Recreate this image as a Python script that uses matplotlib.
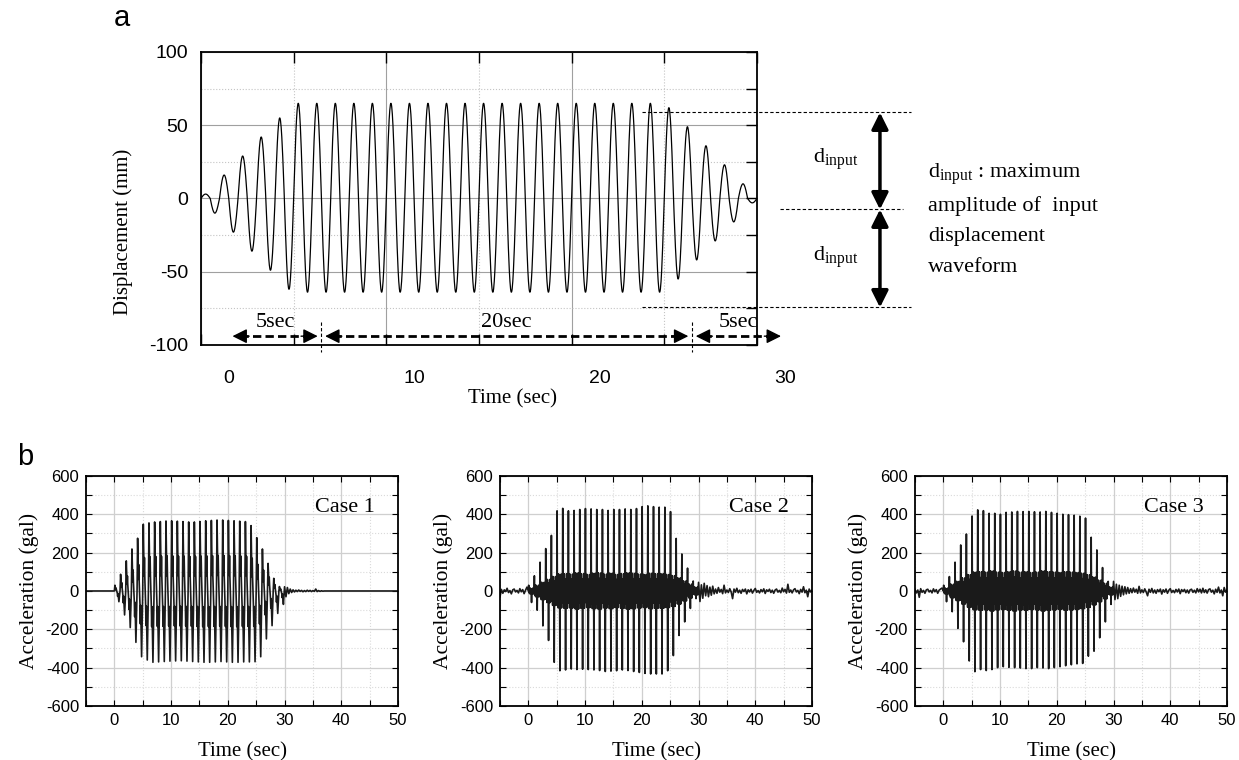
import numpy as np
import matplotlib.pyplot as plt
from matplotlib.ticker import MultipleLocator
from matplotlib.transforms import blended_transform_factory

plt.rcParams['font.family'] = 'Liberation Sans'
plt.rcParams['axes.linewidth'] = 1.3
plt.rcParams['axes.unicode_minus'] = False
SERIF = 'Liberation Serif'

# ---- (a) input displacement: signed peak of every half cycle (mm), 0.5 s apart
disp_half_peaks = [
    3, -10, 16, -23, 29, -36, 42, -49, 55, -62,
    65, -64, 65, -64, 65, -64, 65, -64, 65, -64,
    65, -64, 65, -64, 65, -64, 65, -64, 65, -64,
    65, -64, 65, -64, 65, -64, 65, -64, 65, -64,
    65, -64, 65, -64, 65, -64, 65, -64, 65, -64,
    62, -55, 49, -42, 36, -29, 23, -16, 10, -3,
]
half_period = 0.5
time_ticks_a = [0, 10, 20, 30]
label_shift = 1.5            # printed time scale sits ~1.5 s right of the grid
stage_edges = [0, 5, 25, 30]
stage_names = ['5sec', '20sec', '5sec']
d_levels = [58.7, -7.5, -74.4]   # dashed guides for d_input

# ---- (b) measured acceleration, one entry per 1 s loading cycle (gal)
pos_peaks = {
    'Case 1': [30, 87, 157, 219, 275, 348, 355, 360, 362, 365, 366, 364, 362, 360, 360,
               362, 366, 368, 370, 370, 368, 366, 364, 362, 341, 278, 219, 144, 66, 23],
    'Case 2': [30, 79, 150, 221, 290, 418, 431, 418, 420, 425, 430, 428, 425, 425, 420,
               425, 425, 428, 425, 430, 440, 444, 440, 437, 437, 414, 274, 193, 119, 52],
    'Case 3': [30, 75, 150, 240, 297, 391, 423, 419, 405, 405, 400, 410, 412, 415, 414,
               415, 413, 412, 415, 410, 405, 400, 398, 395, 390, 380, 280, 214, 122, 50],
}
neg_peaks = {
    'Case 1': [56, 125, 191, 268, 343, 360, 372, 370, 368, 366, 365, 364, 366, 368, 370,
               372, 372, 370, 368, 370, 372, 372, 370, 370, 369, 343, 250, 181, 117, 70],
    'Case 2': [60, 100, 182, 258, 372, 416, 412, 407, 410, 408, 410, 412, 415, 420, 418,
               416, 412, 415, 420, 425, 430, 433, 433, 433, 416, 337, 232, 161, 91, 40],
    'Case 3': [56, 108, 195, 265, 365, 421, 410, 415, 410, 400, 395, 398, 400, 402, 405,
               405, 400, 402, 405, 400, 395, 390, 385, 380, 378, 340, 314, 244, 161, 70],
}
core_band = {
    'Case 1': [0] * 30,
    'Case 2': [15, 30, 45, 60, 75, 88, 90, 88, 94, 90, 86, 92, 94, 88, 92,
               86, 90, 94, 92, 88, 86, 92, 90, 90, 86, 80, 68, 52, 36, 20],
    'Case 3': [15, 35, 50, 68, 85, 98, 100, 98, 104, 98, 96, 100, 104, 98, 100,
               96, 98, 104, 100, 98, 96, 100, 98, 96, 92, 85, 72, 56, 40, 20],
}
# baseline record before the shaking (-5..0 s, every 0.25 s)
pre_noise = {
    'Case 1': [0] * 20,
    'Case 2': [-30, 8, -12, 6, -3, 14, -8, 2, -15, 6, 10, -5, 3, -10, 12, -4, 7, -14, 4, 20],
    'Case 3': [8, -10, 5, -33, 12, -7, 3, -12, 6, 9, -5, 3, -10, 11, -4, 7, -12, 4, 10, 15],
}
# record after the shaking (30..50 s, every 0.25 s)
post_noise = {
    'Case 1': [22, -30, 18, -14, 10, -8, 6, -5, 4, -3, 5, -2, 3, -4,
               2, -3, 4, -2, 3, -3, 2, -2, 10, -3, 2, -2, 1, -1] + [0] * 53,
    'Case 2': [45, -55, 32, -38, 40, -25, 28, -30, 20, -22, 25, -15,
               10, -12, 18, -6, 8, -14, 30, -10, 5, -8, 12, -5,
               -40, 10, -6, 14, -9, 4, -12, 8, -3, 10, -15, 6,
               -5, 9, -11, 3, 13, -7, 2, -10, 7, -4, 11, -13,
               6, -2, 9, -8, 4, -12, 5, 10, -6, 3, -9, 15,
               -4, 8, -11, 35, -7, 5, -10, 6, 12, -5, 3, -14,
               8, -6, 22, -9, 4, -30, 10, -5, 4],
    'Case 3': [50, -45, 35, -40, 30, -28, 25, -20, 22, -15, 18, -12,
               12, -9, 15, -6, 9, -12, 24, -10, 6, -8, 11, -5,
               -25, 9, -7, 13, -10, 5, -12, 7, -4, 10, -16, 6,
               -6, 10, -12, 4, 12, -8, 3, -9, 8, -5, 10, -14,
               7, -3, 8, -9, 5, -11, 6, 9, -7, 4, -10, 12,
               -5, 9, -10, 14, -8, 6, -11, 7, 11, -6, 4, -15,
               9, -7, 20, -10, 5, -25, 18, -6, 6],
}
acc_ticks_y = [-600, -400, -200, 0, 200, 400, 600]

# one loading cycle: (phase, level, fraction); P = +peak, N = -peak, B = core band
shape_impact = [(0.00, 'Z', 0), (0.10, 'P', 1), (0.18, 'P', .5), (0.24, 'P', .22),
                (0.30, 'P', .5), (0.36, 'P', .22), (0.52, 'N', .22), (0.58, 'N', .5),
                (0.64, 'N', .22), (0.70, 'N', .5), (0.80, 'N', 1)]
shape_core = [(0.00, 'Z', 0), (0.06, 'P', 1), (0.12, 'B', -.7), (0.20, 'B', 1),
              (0.28, 'B', -1), (0.36, 'B', 1), (0.44, 'B', -.8), (0.50, 'B', .3),
              (0.56, 'N', 1), (0.62, 'B', .7), (0.70, 'B', -1), (0.78, 'B', 1),
              (0.86, 'B', -1), (0.94, 'B', .8)]
case_shape = {'Case 1': shape_impact, 'Case 2': shape_core, 'Case 3': shape_core}


def build_record(case):
    t = list(np.arange(-5, 0, 0.25))
    a = list(pre_noise[case])
    pos, neg, band = pos_peaks[case], neg_peaks[case], core_band[case]
    for k in range(len(pos)):
        level = {'Z': 0, 'P': pos[k], 'N': -neg[k], 'B': band[k]}
        for ph, key, frac in case_shape[case]:
            t.append(k + ph)
            a.append(frac * level[key])
    t += list(np.linspace(30, 50, len(post_noise[case])))
    a += post_noise[case]
    return np.array(t), np.array(a)


fig = plt.figure(figsize=(12.39, 7.6), dpi=100)

# ---------------- panel a ----------------
ax = fig.add_axes([0.1622, 0.5461, 0.4487, 0.3855])
s = np.linspace(0, half_period, 30)
tt, yy = [], []
for j, amp in enumerate(disp_half_peaks):
    tt.extend(j * half_period + s)
    yy.extend(amp * np.sin(np.pi * s / half_period))
ax.plot(tt, yy, color='k', lw=0.9)

ax.set_xlim(0, 30)
ax.set_ylim(-100, 100)
ax.xaxis.set_major_locator(MultipleLocator(10))
ax.xaxis.set_minor_locator(MultipleLocator(5))
ax.set_yticks([-100, -50, 0, 50, 100])
ax.yaxis.set_minor_locator(MultipleLocator(25))
ax.grid(which='major', color='#a0a0a0', lw=0.8)
ax.grid(which='minor', color='#c4c4c4', ls=':', lw=0.8)
ax.tick_params(which='both', direction='in', top=True, right=True, left=False,
               length=8, width=1.0, labelbottom=False, labelsize=14, pad=9)

# printed time scale (offset from the grid)
xlab = blended_transform_factory(ax.transData, ax.transAxes)
for v in time_ticks_a:
    ax.text(v + label_shift, -0.115, str(v), transform=xlab, ha='center', va='center',
            fontsize=14, clip_on=False)

# stage arrows under the waveform: dashed shaft, solid heads
y_arr = -94
gap = 0.2
head = 0.9
dash = (0, (3, 1.5))
for (x0, x1), name in zip(zip(stage_edges[:-1], stage_edges[1:]), stage_names):
    xa, xb = x0 + label_shift + gap, x1 + label_shift - gap
    ax.plot([xa + 0.4, xb - 0.4], [y_arr] * 2, color='k', lw=2, ls=dash, clip_on=False)
    for tip, tail in [(xa, xa + head), (xb, xb - head)]:
        ax.annotate('', xy=(tip, y_arr), xytext=(tail, y_arr),
                    arrowprops=dict(arrowstyle='-|>', lw=1, color='k',
                                    mutation_scale=22, shrinkA=0, shrinkB=0),
                    annotation_clip=False)
    ax.text((x0 + x1) / 2 + label_shift, -85, name, ha='center', va='center',
            family=SERIF, fontsize=16, clip_on=False)
for xe in stage_edges[1:-1]:
    ax.plot([xe + label_shift] * 2, [-84, -105], color='k', lw=0.8,
            ls=(0, (3, 2)), clip_on=False)

# d_input guides
ax.plot([23.8, 38.3], [d_levels[0]] * 2, color='k', lw=0.8, ls=(0, (3, 2)), clip_on=False)
ax.plot([31.25, 37.9], [d_levels[1]] * 2, color='k', lw=0.8, ls=(0, (3, 2)), clip_on=False)
ax.plot([23.8, 38.3], [d_levels[2]] * 2, color='k', lw=0.8, ls=(0, (3, 2)), clip_on=False)
for top, bot in zip(d_levels[:-1], d_levels[1:]):
    ax.annotate('', xy=(36.64, bot), xytext=(36.64, top),
                arrowprops=dict(arrowstyle='<|-|>', lw=2.5, color='k',
                                mutation_scale=25, shrinkA=0, shrinkB=0),
                annotation_clip=False)
    ax.text(35.45, (top + bot) / 2 + 0.5, r'd$_{\mathregular{input}}$', ha='right',
            va='center', family=SERIF, fontsize=16, clip_on=False)

note = [r'd$_{\mathregular{input}}$ : maximum', 'amplitude of  input',
        'displacement', 'waveform']
for i, line in enumerate(note):
    fig.text(928 / 1239, 1 - (175 + 31 * i) / 760, line, ha='left', va='center',
             family=SERIF, fontsize=16)

fig.text(123 / 1239, 1 - 232 / 760, 'Displacement (mm)', rotation=90, ha='center',
         va='center', family=SERIF, fontsize=15)
fig.text(513 / 1239, 1 - 399 / 760, 'Time (sec)', ha='center', va='center',
         family=SERIF, fontsize=15)
fig.text(122 / 1239, 1 - 18 / 760, 'a', ha='center', va='center', fontsize=21)
fig.text(25 / 1239, 1 - 457 / 760, 'b', ha='center', va='center', fontsize=21)

# ---------------- panel b ----------------
lefts = [86, 500, 915]
for left, case in zip(lefts, ['Case 1', 'Case 2', 'Case 3']):
    bx = fig.add_axes([left / 1239, 0.0711, 312 / 1239, 0.3026])
    t, a = build_record(case)
    bx.plot(t, a, color='#1a1a1a', lw=1.2)
    bx.set_xlim(-5, 50)
    bx.set_ylim(-600, 600)
    bx.set_yticks(acc_ticks_y)
    bx.xaxis.set_major_locator(MultipleLocator(10))
    bx.xaxis.set_minor_locator(MultipleLocator(5))
    bx.yaxis.set_minor_locator(MultipleLocator(100))
    bx.grid(which='major', color='#cfcfcf', lw=0.9)
    bx.grid(which='minor', color='#dadada', ls=':', lw=0.8)
    bx.tick_params(which='both', direction='in', top=True, right=True,
                   length=4, width=0.8, labelsize=12, pad=5)
    bx.set_xlabel('Time (sec)', family=SERIF, fontsize=15, labelpad=10)
    bx.set_ylabel('Acceleration (gal)', family=SERIF, fontsize=15.5, labelpad=5)
    bx.text(0.926, 0.861, case, transform=bx.transAxes, ha='right', va='center',
            family=SERIF, fontsize=16)

fig.savefig('out.png', dpi=100)
